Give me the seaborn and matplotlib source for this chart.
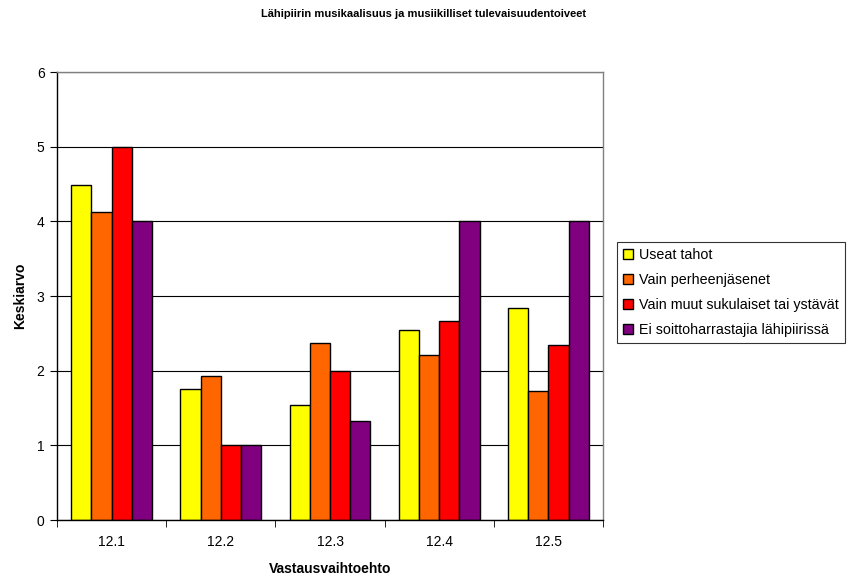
import matplotlib
matplotlib.use('Agg')
import matplotlib.pyplot as plt
import numpy as np
import pandas as pd
import seaborn as sns

categories = ['12.1', '12.2', '12.3', '12.4', '12.5']
series_names = ['Useat tahot', 'Vain perheenjäsenet',
                'Vain muut sukulaiset tai ystävät', 'Ei soittoharrastajia lähipiirissä']
useat = [4.49, 1.75, 1.54, 2.54, 2.84]
perhe = [4.13, 1.93, 2.37, 2.21, 1.73]
muut = [5.0, 1.0, 2.0, 2.67, 2.34]
ei = [4.0, 1.0, 1.33, 4.0, 4.0]
colors = ['#FFFF00', '#FF6600', '#FF0000', '#800080']

df = pd.DataFrame({'Vastausvaihtoehto': categories * 4,
                   'Keskiarvo': useat + perhe + muut + ei,
                   'sarja': np.repeat(series_names, len(categories))})

sns.set_style('white', {'text.color': 'black', 'axes.labelcolor': 'black',
                        'xtick.color': 'black', 'ytick.color': 'black'})
plt.rcParams['font.family'] = ['Liberation Sans', 'DejaVu Sans']

fig = plt.figure(figsize=(8.48, 5.83), dpi=100)
ax = fig.add_axes([57/848, 1 - 520/583, 546/848, 448/583])

sns.barplot(data=df, x='Vastausvaihtoehto', y='Keskiarvo', hue='sarja',
            palette=colors, edgecolor='black', linewidth=1, width=0.74,
            saturation=1, ax=ax, legend=True)

ax.set_ylim(0, 6)
ax.set_xlim(-0.5, 4.5)
ax.set_yticks(range(7))
ax.yaxis.grid(True, color='black', linewidth=0.8)
ax.set_axisbelow(True)
for s in ['top', 'right']:
    ax.spines[s].set_color('#808080')
for s in ['left', 'bottom']:
    ax.spines[s].set_color('black')
for s in ax.spines.values():
    s.set_linewidth(1)

ax.set_xticks(range(5))
ax.set_xticklabels(categories, fontsize=10)
ax.tick_params(axis='x', length=0, pad=11)
ax.set_xticks(np.arange(-0.5, 5, 1), minor=True)
ax.tick_params(axis='x', which='minor', length=5, color='black', direction='out', bottom=True)
ax.tick_params(axis='y', labelsize=10, length=5, pad=4, color='black', direction='out', left=True)

ax.set_xlabel('Vastausvaihtoehto', fontsize=10, fontweight='bold', labelpad=9)
ax.set_ylabel('Keskiarvo', fontsize=10, fontweight='bold', labelpad=7)
fig.suptitle('Lähipiirin musikaalisuus ja musiikilliset tulevaisuudentoiveet',
             fontsize=8, fontweight='bold', y=1 - 14/583, va='center')

leg = ax.legend(loc='upper left', bbox_to_anchor=(617/848, 1 - 242/583),
                bbox_transform=fig.transFigure, fontsize=10.3, frameon=True,
                fancybox=False, edgecolor='black', handlelength=0.7,
                handleheight=0.7, handletextpad=0.4, labelspacing=0.75,
                borderpad=0.45, borderaxespad=0)
leg.get_frame().set_linewidth(0.8)

fig.savefig('out.png', dpi=100, facecolor='white')
